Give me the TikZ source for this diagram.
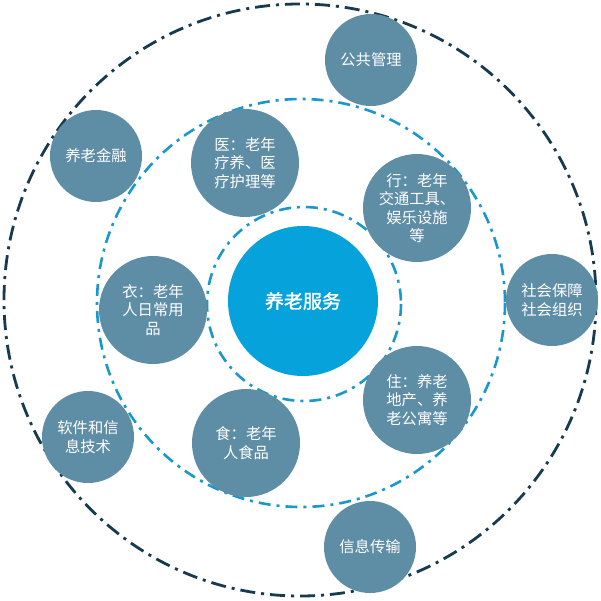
\documentclass[tikz,border=0pt]{standalone}
\usepackage{fontspec}
\setmainfont{Noto Sans CJK SC}
\newfontfamily\cjkb[FakeBold=1.5]{Noto Sans CJK SC}
\definecolor{navy}{HTML}{173A4E}
\definecolor{ringblue}{HTML}{1A98CC}
\definecolor{corefill}{HTML}{05A2DB}
\definecolor{bubble}{HTML}{5E8DA6}
\begin{document}
\begin{tikzpicture}[x=1pt,y=-1pt,
  outerring/.style={draw=navy,line width=2.8pt,dash pattern=on 15pt off 6pt on 3pt off 6pt},
  midring/.style={draw=ringblue,line width=2.6pt,dash pattern=on 12pt off 6pt on 3pt off 6pt},
  bigbub/.style={circle,fill=bubble,minimum size=108pt,inner sep=0pt,text=white,align=center,font=\fontsize{15.3}{18.5}\selectfont},
  smallbub/.style={circle,fill=bubble,minimum size=92pt,inner sep=0pt,text=white,align=center,font=\fontsize{15.3}{18.5}\selectfont}]
\useasboundingbox (0,0) rectangle (600,601);
\fill[white] (0,0) rectangle (600,601);
\draw[outerring] (300,300) circle (296);
\draw[midring] (301,303) circle (204);
\draw[midring] (304,304) circle (97);
\node[circle,fill=corefill,minimum size=150pt,inner sep=0pt,text=white,font=\cjkb\fontsize{19}{22}\selectfont] (core) at (303,301) {养老服务};
\node[smallbub] (gg) at (371,60) {公共管理};
\node[smallbub] (jr) at (96,156) {养老金融};
\node[smallbub] (sb) at (552,300) {社会保障\\社会组织};
\node[smallbub] (rj) at (88,437) {软件和信\\息技术};
\node[smallbub] (xx) at (370,547) {信息传输};
\node[bigbub] (yi) at (245,163) {医：老年\\疗养、医\\疗护理等};
\node[bigbub] (xing) at (417,208) {行：老年\\交通工具、\\娱乐设施\\等};
\node[bigbub] (yifu) at (153,310) {衣：老年\\人日常用\\品};
\node[bigbub] (zhu) at (417,400) {住：养老\\地产、养\\老公寓等};
\node[bigbub] (shi) at (246,443) {食：老年\\人食品};
\end{tikzpicture}
\end{document}
